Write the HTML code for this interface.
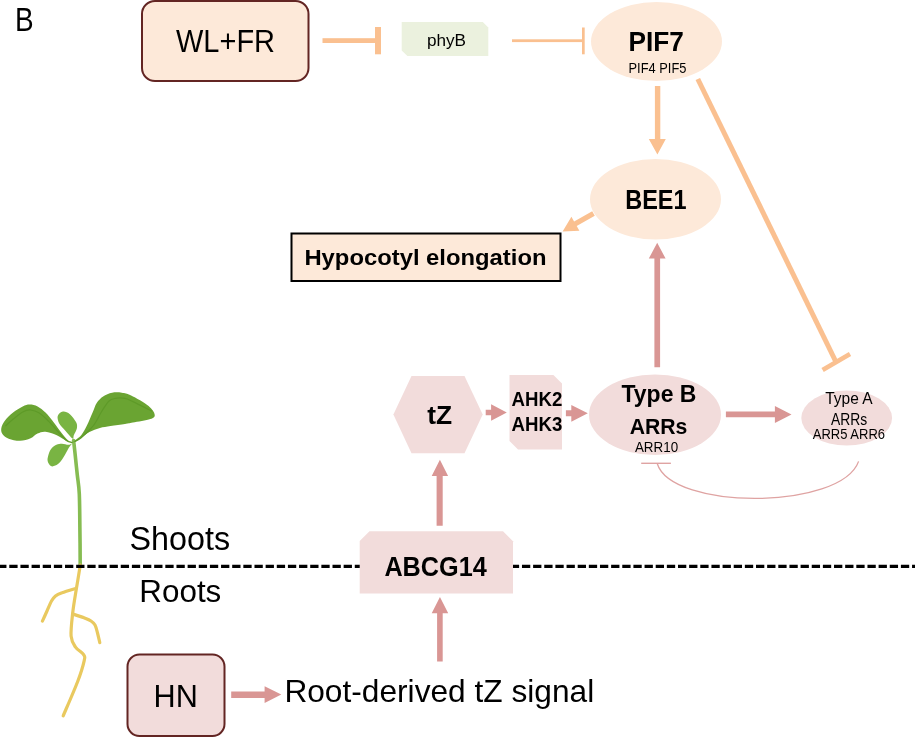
<!DOCTYPE html>
<html><head><meta charset="utf-8"><style>
html,body{margin:0;padding:0;background:#fff;width:915px;height:739px;overflow:hidden}
svg{display:block;position:absolute;left:0;top:0;will-change:transform}
text{font-family:"Liberation Sans",sans-serif;fill:#000}
</style></head><body>
<svg width="915" height="739" viewBox="0 0 915 739">
<path d="M73.6,440.5 C73.9,442.9 74.6,449.2 75.2,455.0 C75.8,460.8 76.6,468.5 77.3,475.0 C78.0,481.5 78.9,484.8 79.3,494.0 C79.7,503.2 79.8,518.0 79.9,530.0 C80.1,542.0 80.2,560.0 80.2,566.0 " fill="none" stroke="#86BC52" stroke-width="3.6" stroke-linecap="round"/>
<path d="M80.3,565.0 C79.7,568.9 77.8,580.1 76.5,588.1 C75.2,596.1 73.6,605.0 72.7,613.0 C71.8,621.0 70.6,630.5 71.1,636.2 C71.6,641.9 73.4,644.0 75.5,647.1 C77.6,650.2 82.2,652.3 83.6,654.6 C85.0,656.9 85.1,656.6 84.1,661.1 C83.1,665.6 81.1,672.6 77.6,681.7 C74.1,690.8 65.6,710.1 63.2,715.8 " fill="none" stroke="#E9C95F" stroke-width="3.2" stroke-linecap="round" stroke-linejoin="round"/>
<path d="M75.5,588.5 C73.2,589.2 65.3,591.5 62.0,592.8 C58.7,594.0 57.2,594.6 55.5,596.0 C53.8,597.4 52.9,598.5 51.5,601.0 C50.1,603.5 48.5,607.6 47.0,611.0 C45.5,614.4 43.2,619.4 42.4,621.1 " fill="none" stroke="#E9C95F" stroke-width="3.2" stroke-linecap="round" stroke-linejoin="round"/>
<path d="M72.7,614.0 C74.6,614.6 81.0,616.6 84.0,617.8 C87.0,619.0 89.2,619.8 91.0,621.0 C92.8,622.2 93.9,623.0 95.0,625.0 C96.1,627.0 96.7,630.0 97.5,633.0 C98.3,636.0 99.4,641.1 99.8,642.7 " fill="none" stroke="#E9C95F" stroke-width="3.2" stroke-linecap="round" stroke-linejoin="round"/>
<path d="M73.5,442.5 C73.7,442.4 70.2,442.1 68.2,440.5 C66.2,438.9 63.5,435.5 61.2,432.6 C58.9,429.7 56.8,426.4 54.2,423.0 C51.6,419.6 48.3,415.3 45.5,412.5 C42.7,409.7 40.2,407.8 37.6,406.4 C35.0,405.0 32.2,404.4 29.7,404.4 C27.2,404.4 25.5,405.0 22.7,406.4 C19.9,407.8 16.0,410.2 13.1,412.5 C10.2,414.8 7.2,417.7 5.2,420.3 C3.2,422.9 1.7,425.9 1.3,428.2 C0.9,430.5 1.4,432.6 2.6,434.3 C3.8,436.1 5.8,437.6 8.7,438.7 C11.6,439.8 16.4,440.9 20.0,440.8 C23.6,440.7 27.7,439.5 30.6,438.3 C33.5,437.1 35.0,434.6 37.5,433.5 C40.0,432.4 42.3,431.4 45.5,431.7 C48.7,432.0 53.2,433.6 56.8,435.2 C60.4,436.8 64.5,440.1 67.3,441.3 C70.1,442.5 73.3,442.6 73.5,442.5 Z" fill="#6AA432"/>
<path d="M5.5,426.0 C6.8,424.8 10.4,421.3 13.3,419.0 C16.2,416.7 19.8,413.5 22.7,412.0 C25.6,410.5 27.8,409.8 30.6,410.0 C33.4,410.2 36.2,411.1 39.3,413.0 C42.4,414.9 46.1,418.7 49.0,421.6 C51.9,424.5 53.9,427.2 56.8,430.3 C59.7,433.4 63.8,438.5 66.4,440.5 C69.0,442.5 71.5,442.2 72.5,442.5 " fill="none" stroke="#5E9A28" stroke-width="1.2"/>
<path d="M73.5,441.5 C74.5,440.4 79.0,437.9 81.2,435.3 C83.4,432.7 85.0,429.4 86.9,425.6 C88.8,421.8 91.0,416.4 92.6,412.6 C94.2,408.8 95.0,405.6 96.7,402.9 C98.5,400.2 100.5,398.1 103.1,396.4 C105.7,394.7 109.0,393.3 112.1,392.7 C115.2,392.1 118.6,392.2 121.8,392.7 C125.0,393.2 126.6,393.3 131.1,395.5 C135.6,397.7 144.7,402.8 148.6,406.0 C152.5,409.2 154.4,412.5 154.7,414.7 C155.0,416.9 153.9,417.8 150.3,419.1 C146.7,420.4 137.1,421.8 132.9,422.6 C128.7,423.4 128.7,423.4 125.0,424.0 C121.3,424.6 114.7,425.3 110.5,426.0 C106.3,426.7 103.4,427.0 99.9,428.0 C96.4,429.0 92.7,430.4 89.4,432.1 C86.1,433.9 82.4,436.9 80.0,438.5 C77.6,440.1 76.1,441.5 75.0,442.0 C73.9,442.5 72.5,442.6 73.5,441.5 Z" fill="#6AA432"/>
<path d="M75.0,441.5 C76.0,440.9 78.1,440.4 81.2,437.8 C84.3,435.2 90.0,429.9 93.4,425.6 C96.8,421.3 98.9,415.9 101.5,411.8 C104.1,407.7 106.5,403.4 108.8,401.2 C111.1,399.0 112.6,398.9 115.3,398.4 C118.0,397.9 122.1,397.9 125.0,398.4 C127.9,398.9 128.4,399.5 132.9,401.6 C137.4,403.7 148.9,409.6 152.1,411.2 " fill="none" stroke="#5E9A28" stroke-width="1.2"/>
<path d="M72.5,438.5 C71.0,437.6 66.9,432.4 64.7,430.0 C62.5,427.6 60.6,426.1 59.4,423.8 C58.2,421.5 57.1,418.0 57.7,416.0 C58.3,414.0 60.9,411.9 62.9,411.6 C64.9,411.3 67.7,412.4 69.9,414.2 C72.1,415.9 74.8,419.8 76.0,422.1 C77.2,424.4 77.3,426.0 76.9,428.2 C76.5,430.4 74.5,433.5 73.8,435.2 C73.1,436.9 74.0,439.4 72.5,438.5 Z" fill="#79B443"/>
<path d="M72.0,443.5 C71.9,443.0 70.1,444.8 68.4,444.8 C66.7,444.8 63.9,443.7 61.9,443.7 C59.9,443.7 58.2,443.9 56.4,444.8 C54.6,445.7 52.3,447.4 50.9,449.2 C49.5,451.0 48.7,453.8 48.2,455.8 C47.7,457.8 47.2,459.5 47.7,461.2 C48.2,462.9 49.6,465.4 50.9,466.1 C52.2,466.8 53.6,466.4 55.3,465.6 C56.9,464.8 59.1,463.2 60.8,461.2 C62.5,459.2 64.3,455.9 65.7,453.6 C67.1,451.3 68.0,449.3 69.0,447.6 C70.0,445.9 72.1,444.0 72.0,443.5 Z" fill="#79B443"/>
<rect x="142" y="1" width="166.5" height="80" rx="13" ry="13" fill="#FDE9D9" stroke="#632523" stroke-width="2"/>
<rect x="322.5" y="38.2" width="53" height="4.8" fill="#FAC090"/>
<rect x="375" y="27" width="6" height="27.3" fill="#FAC090"/>
<polygon points="401.7,22 482.8,22 488.3,27.5 488.3,56.1 407.4,56.1 401.7,50.4" fill="#EBF1DE"/>
<rect x="512" y="39.3" width="70.5" height="2.8" fill="#FAC090"/>
<rect x="582" y="27.5" width="2.7" height="26.8" fill="#FAC090"/>
<ellipse cx="656.5" cy="41.5" rx="65.5" ry="39.5" fill="#FDE9D9"/>
<path d="M654.9,86 L660.3,86 L660.3,139.1 L665.8,139.1 L657.4,154.6 L648.8,139.1 L654.9,139.1 Z" fill="#FAC090"/>
<line x1="697.8" y1="79" x2="836" y2="362" stroke="#FAC090" stroke-width="5"/>
<line x1="822.6" y1="370" x2="850" y2="354.1" stroke="#FAC090" stroke-width="4.6"/>
<ellipse cx="655.5" cy="199.2" rx="65.5" ry="40.3" fill="#FDE9D9"/>
<path d="M594.8,215.85 L592.2,211.35 L574.1,221.5 L571.4,216.8 L562.6,231.5 L579.4,230.7 L576.7,226 Z" fill="#FAC090"/>
<rect x="291.5" y="233.5" width="269" height="47.5" fill="#FDE9D9" stroke="#000" stroke-width="2"/>
<path d="M654.4,367.3 L654.4,258.6 L648.8,258.6 L657.2,242.8 L665.6,258.6 L660.1,258.6 L660.1,367.3 Z" fill="#D99694"/>
<ellipse cx="655" cy="414.7" rx="66" ry="40.3" fill="#F2DCDB"/>
<polygon points="393.4,414.5 411.5,376 464.5,376 482.7,414.5 464.5,453.2 411.5,453.2" fill="#F2DCDB"/>
<path d="M485.7,409.7 L491.1,409.7 L491.1,404.2 L506.8,412.5 L491.1,420.8 L491.1,415.3 L485.7,415.3 Z" fill="#D99694"/>
<polygon points="509.5,375 553.4,375 562,383.5 562,449.6 518,449.6 509.5,441" fill="#F2DCDB"/>
<path d="M565.9,410.3 L571.3,410.3 L571.3,404.9 L587.8,413.35 L571.3,421.8 L571.3,416.2 L565.9,416.2 Z" fill="#D99694"/>
<path d="M725.9,411.5 L774.9,411.5 L774.9,406.1 L791.5,414.55 L774.9,423 L774.9,417.2 L725.9,417.2 Z" fill="#D99694"/>
<ellipse cx="846.7" cy="418" rx="45.4" ry="27.6" fill="#F2DCDB"/>
<line x1="641.2" y1="463.3" x2="670.9" y2="463.3" stroke="#DFA3A2" stroke-width="1.4"/>
<path d="M657.2,463.5 C671.8,510.7 841,510.2 858.6,461.4" fill="none" stroke="#DFA3A2" stroke-width="1.3"/>
<line x1="0" y1="566.3" x2="915" y2="566.3" stroke="#000" stroke-width="3.3" stroke-dasharray="8.3 2.845" stroke-dashoffset="1.85"/>
<polygon points="359.7,541 369.5,531.2 503,531.2 513,541.2 513,593.4 359.7,593.4" fill="#F2DCDB"/>
<path d="M436.6,525.8 L436.6,476 L431.7,476 L439.9,459.7 L448.1,476 L442.7,476 L442.7,525.8 Z" fill="#D99694"/>
<path d="M437.1,661.6 L437.1,613.3 L431.7,613.3 L439.95,597 L448.2,613.3 L442.7,613.3 L442.7,661.6 Z" fill="#D99694"/>
<rect x="127.5" y="654.5" width="97" height="81.5" rx="12" ry="12" fill="#F2DCDB" stroke="#632523" stroke-width="2"/>
<path d="M231.2,691.5 L264.6,691.5 L264.6,686.2 L281.3,694.6 L264.6,703 L264.6,698 L231.2,698 Z" fill="#D99694"/>
<text x="14.90" y="30.80" font-size="34.01" font-weight="normal" textLength="18.60" lengthAdjust="spacingAndGlyphs">B</text>
<text x="176.00" y="52.00" font-size="31.40" font-weight="normal" textLength="99.00" lengthAdjust="spacingAndGlyphs">WL+FR</text>
<text x="426.90" y="45.80" font-size="15.70" font-weight="normal" textLength="39.10" lengthAdjust="spacingAndGlyphs">phyB</text>
<text x="628.50" y="50.90" font-size="26.89" font-weight="bold" textLength="55.30" lengthAdjust="spacingAndGlyphs">PIF7</text>
<text x="628.50" y="72.70" font-size="14.83" font-weight="normal" textLength="57.90" lengthAdjust="spacingAndGlyphs">PIF4 PIF5</text>
<text x="625.20" y="209.30" font-size="28.05" font-weight="bold" textLength="61.30" lengthAdjust="spacingAndGlyphs">BEE1</text>
<text x="304.40" y="265.20" font-size="22.82" font-weight="bold" textLength="242.10" lengthAdjust="spacingAndGlyphs">Hypocotyl elongation</text>
<text x="621.50" y="401.70" font-size="23.69" font-weight="bold" textLength="74.90" lengthAdjust="spacingAndGlyphs">Type B</text>
<text x="629.70" y="433.90" font-size="22.82" font-weight="bold" textLength="57.70" lengthAdjust="spacingAndGlyphs">ARRs</text>
<text x="634.90" y="452.30" font-size="14.54" font-weight="normal" textLength="43.20" lengthAdjust="spacingAndGlyphs">ARR10</text>
<text x="427.20" y="423.90" font-size="26.60" font-weight="bold" textLength="24.90" lengthAdjust="spacingAndGlyphs">tZ</text>
<text x="511.60" y="405.60" font-size="19.77" font-weight="bold" textLength="50.80" lengthAdjust="spacingAndGlyphs">AHK2</text>
<text x="511.60" y="431.30" font-size="19.33" font-weight="bold" textLength="50.80" lengthAdjust="spacingAndGlyphs">AHK3</text>
<text x="825.20" y="403.50" font-size="16.72" font-weight="normal" textLength="47.40" lengthAdjust="spacingAndGlyphs">Type A</text>
<text x="831.00" y="424.60" font-size="16.86" font-weight="normal" textLength="36.20" lengthAdjust="spacingAndGlyphs">ARRs</text>
<text x="812.80" y="438.80" font-size="14.83" font-weight="normal" textLength="72.20" lengthAdjust="spacingAndGlyphs">ARR5 ARR6</text>
<text x="384.40" y="575.70" font-size="28.05" font-weight="bold" textLength="102.30" lengthAdjust="spacingAndGlyphs">ABCG14</text>
<text x="129.50" y="549.90" font-size="32.70" font-weight="normal" textLength="100.60" lengthAdjust="spacingAndGlyphs">Shoots</text>
<text x="139.30" y="601.60" font-size="30.52" font-weight="normal" textLength="82.00" lengthAdjust="spacingAndGlyphs">Roots</text>
<text x="153.60" y="706.90" font-size="31.98" font-weight="normal" textLength="44.30" lengthAdjust="spacingAndGlyphs">HN</text>
<text x="284.40" y="702.30" font-size="31.98" font-weight="normal" textLength="309.80" lengthAdjust="spacingAndGlyphs">Root-derived tZ signal</text>
</svg>
</body></html>
